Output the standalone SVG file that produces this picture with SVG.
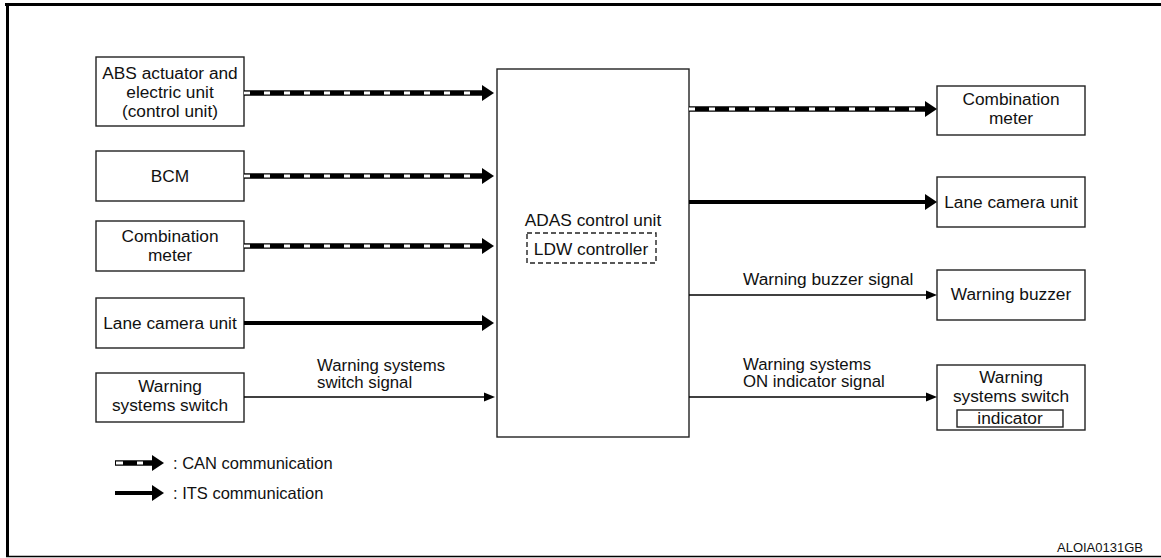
<svg xmlns="http://www.w3.org/2000/svg" width="1161" height="558" viewBox="0 0 1161 558">
<style>
text{font-family:"Liberation Sans",Arial,sans-serif;font-size:17.3px;fill:#111}
.c{text-anchor:middle}
.lbl{font-size:16.8px}
.box{fill:#fff;stroke:#222;stroke-width:1.4}
.canB{stroke:#000;stroke-width:5.6;fill:none}
.canW{stroke:#fff;stroke-width:2.8;fill:none;stroke-dasharray:6 14}
.its{stroke:#000;stroke-width:4;fill:none}
.sig{stroke:#000;stroke-width:1.5;fill:none}
.ah{fill:#000}
</style>
<defs>
<path id="big" d="M0,0 L-12,-8 L-12,8 Z"/>
<path id="small" d="M0,0 L-11,-4.5 L-11,4.5 Z"/>
</defs>
<g id="frame">
<line x1="5" y1="4.5" x2="1161" y2="4.5" stroke="#000" stroke-width="3"/>
<line x1="7.5" y1="3" x2="7.5" y2="557" stroke="#000" stroke-width="3"/>
<line x1="6" y1="556.5" x2="1161" y2="556.5" stroke="#000" stroke-width="1.5"/>
</g>
<g id="abs"><rect class="box" x="96" y="57" width="148" height="69"/>
<text class="c" x="170" y="79">ABS actuator and</text><text class="c" x="170" y="98">electric unit</text><text class="c" x="170" y="117">(control unit)</text></g>
<g id="bcm"><rect class="box" x="96" y="151" width="148" height="50"/><text class="c" x="170" y="182">BCM</text></g>
<g id="combL"><rect class="box" x="96" y="221" width="148" height="50"/><text class="c" x="170" y="242">Combination</text><text class="c" x="170" y="261">meter</text></g>
<g id="laneL"><rect class="box" x="96" y="298" width="148" height="50"/><text class="c" x="170" y="329">Lane camera unit</text></g>
<g id="wssL"><rect class="box" x="96" y="373" width="148" height="49"/><text class="c" x="170" y="392">Warning</text><text class="c" x="170" y="411">systems switch</text></g>
<g id="adas"><rect class="box" x="497" y="69" width="192" height="368"/>
<text class="c" x="593" y="226">ADAS control unit</text>
<rect x="527" y="233" width="129" height="30" fill="none" stroke="#222" stroke-width="1.4" stroke-dasharray="5 3"/>
<text class="c" x="591" y="255">LDW controller</text></g>
<g id="combR"><rect class="box" x="937" y="86" width="148" height="49"/><text class="c" x="1011" y="105">Combination</text><text class="c" x="1011" y="124">meter</text></g>
<g id="laneR"><rect class="box" x="937" y="177" width="148" height="50"/><text class="c" x="1011" y="208">Lane camera unit</text></g>
<g id="buzzer"><rect class="box" x="937" y="270" width="148" height="50"/><text class="c" x="1011" y="300">Warning buzzer</text></g>
<g id="wssInd"><rect class="box" x="937" y="365" width="148" height="65"/>
<text class="c" x="1011" y="383">Warning</text><text class="c" x="1011" y="402">systems switch</text>
<rect x="957" y="410" width="106" height="17" fill="none" stroke="#222" stroke-width="1.4"/>
<text class="c" x="1010" y="424">indicator</text></g>
<g id="connectors">
<path class="canB" d="M244,93 H483"/><path class="canW" d="M244,93 H483"/><use href="#big" class="ah" x="494" y="93"/>
<path class="canB" d="M244,176 H483"/><path class="canW" d="M244,176 H483"/><use href="#big" class="ah" x="494" y="176"/>
<path class="canB" d="M244,246 H483"/><path class="canW" d="M244,246 H483"/><use href="#big" class="ah" x="494" y="246"/>
<path class="its" d="M244,323 H483"/><use href="#big" class="ah" x="494" y="323"/>
<path class="sig" d="M244,397 H484"/><use href="#small" class="ah" x="495" y="397"/>
<path class="canB" d="M689,109 H926"/><path class="canW" d="M689,109 H926"/><use href="#big" class="ah" x="937" y="109"/>
<path class="its" d="M689,202 H926"/><use href="#big" class="ah" x="937" y="202"/>
<path class="sig" d="M689,295 H927"/><use href="#small" class="ah" x="937" y="295"/>
<path class="sig" d="M689,397 H927"/><use href="#small" class="ah" x="937" y="397"/>
<text class="lbl" x="317" y="371">Warning systems</text><text class="lbl" x="317" y="388">switch signal</text>
<text x="743" y="285">Warning buzzer signal</text>
<text class="lbl" x="743" y="370">Warning systems</text><text class="lbl" x="743" y="387">ON indicator signal</text>
</g>
<g id="legend">
<path class="canB" d="M115,463 H153"/>
<path stroke="#fff" stroke-width="2.8" d="M116,463 H123 M137,463 H143"/>
<use href="#big" class="ah" x="164" y="463"/>
<text x="173" y="469" style="font-size:16.5px">: CAN communication</text>
<path class="its" d="M115,493 H153"/><use href="#big" class="ah" x="164" y="493"/>
<text x="173" y="499" style="font-size:16.5px">: ITS communication</text>
</g>
<text x="1143" y="552" style="font-size:13px;text-anchor:end">ALOIA0131GB</text>
</svg>
